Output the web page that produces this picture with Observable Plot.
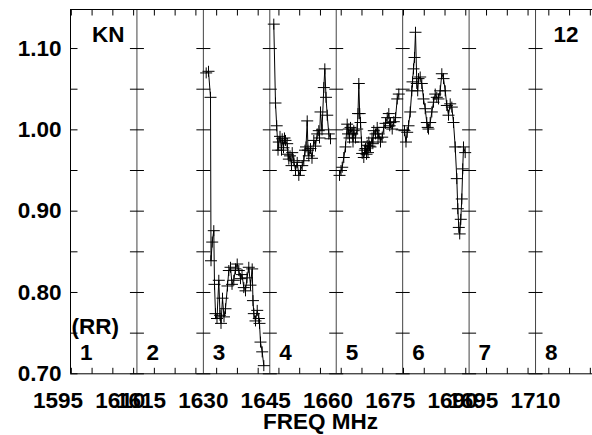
<!DOCTYPE html>
<html><head><meta charset="utf-8">
<script src="https://cdn.jsdelivr.net/npm/d3@7"></script>
<script src="https://cdn.jsdelivr.net/npm/@observablehq/plot@0.6"></script>
<style>html,body{margin:0;padding:0;background:#fff;overflow:hidden}</style>
</head><body><div id="chart"></div>
<script>
// ---- data ----
const panelStarts = [1598, 1614, 1630, 1646, 1662, 1678, 1694, 1710];
const panelNames = ["1", "2", "3", "4", "5", "6", "7", "8"];
const boundaries = [1614, 1630, 1646, 1662, 1678, 1694, 1710];
const xTickLabels = [1595, 1610, 1615, 1630, 1645, 1660, 1675, 1690, 1695, 1710];
const minorTicks = [1598.2,1603.2,1608.2,1613.2,1618.2,1623.2,1628.2,1633.2,1638.2,1643.2,1648.2,1653.2,1658.2,1663.2,1668.2,1673.2,1678.2,1683.2,1688.2,1693.2,1698.2,1703.2,1708.2,1713.2,1718.2,1723.2];
const yTickLabels = [0.70, 0.80, 0.90, 1.00, 1.10];
const yTickAll = [0.70, 0.75, 0.80, 0.85, 0.90, 0.95, 1.00, 1.05, 1.10];
const xDomain = [1598, 1723.72];
const yDomain = [0.70, 1.148];

const panel3Freq = [1630.68,1631.24,1631.72,1631.84,1632.13,1632.51,1632.68,1632.92,1633.28,1633.72,1634.01,1634.25,1634.61,1634.97,1635.33,1635.81,1636.13,1636.54,1636.90,1637.33,1637.74,1638.15,1638.54,1638.94,1639.31,1639.74,1640.15,1640.51,1640.94,1641.35,1641.76,1641.95,1642.15,1642.56,1642.97,1643.35,1643.52,1643.76,1644.17,1644.56];
const panel3Val = [1.070,1.072,1.040,0.839,0.862,0.876,0.810,0.774,0.768,0.815,0.772,0.762,0.793,0.770,0.780,0.808,0.827,0.831,0.810,0.815,0.829,0.835,0.827,0.817,0.822,0.806,0.802,0.818,0.831,0.809,0.829,0.790,0.774,0.765,0.778,0.768,0.762,0.739,0.727,0.710];

const panel4Freq = [1646.96,1647.37,1647.66,1647.98,1648.17,1648.46,1648.82,1648.99,1649.30,1649.54,1649.78,1650.19,1650.38,1650.58,1650.87,1651.23,1651.40,1651.78,1652.19,1652.60,1652.99,1653.39,1653.81,1654.19,1654.48,1654.72,1655.01,1655.20,1655.39,1655.80,1656.16,1656.60,1657.01,1657.42,1657.80,1657.97,1658.21,1658.57,1659.01,1659.25,1659.54,1659.83,1660.21,1660.62];
const panel4Val = [1.130,1.033,1.005,0.975,0.985,0.992,0.975,0.989,0.978,0.990,0.987,0.983,0.970,0.964,0.968,0.956,0.972,0.962,0.950,0.960,0.944,0.950,0.956,0.962,0.975,0.979,1.011,0.975,0.968,0.977,0.965,0.987,0.980,0.995,0.999,0.990,1.022,1.000,1.052,1.075,1.040,1.018,0.995,0.989];

const panel5Freq = [1662.79,1663.15,1663.44,1663.82,1664.23,1664.64,1664.84,1665.03,1665.20,1665.44,1665.85,1666.04,1666.23,1666.64,1667.05,1667.24,1667.44,1667.65,1667.85,1668.09,1668.25,1668.64,1668.86,1669.05,1669.29,1669.46,1669.65,1669.85,1670.01,1670.25,1670.62,1670.81,1671.05,1671.46,1671.87,1672.06,1672.25,1672.66,1673.07,1673.46,1673.87,1674.28,1674.66,1674.88,1675.07,1675.48,1675.87,1676.28,1676.69,1677.07];
const panel5Val = [0.944,0.950,0.954,0.966,0.979,1.007,0.995,1.001,0.990,1.003,0.995,0.985,0.999,0.990,1.001,1.020,1.057,1.020,1.009,0.985,0.971,0.966,0.975,0.977,0.970,0.981,0.972,0.985,0.980,0.979,0.990,0.983,0.999,0.995,1.003,0.990,0.995,0.985,0.991,1.003,1.008,1.015,1.020,1.005,1.009,1.001,1.010,1.015,1.038,1.044];

const panel6Freq = [1678.44,1678.80,1679.09,1679.41,1679.82,1680.20,1680.37,1680.61,1680.85,1681.09,1681.41,1681.62,1681.82,1682.22,1682.61,1683.02,1683.43,1683.81,1684.03,1684.22,1684.63,1685.02,1685.43,1685.84,1686.22,1686.63,1687.04,1687.43,1687.84,1688.25,1688.63,1689.04,1689.45,1689.84,1690.24,1690.65,1691.04,1691.28,1691.52,1691.74,1692.00,1692.24,1692.46,1692.65,1693.06];
const panel6Val = [0.999,0.985,0.997,1.005,1.022,1.048,1.059,1.075,1.089,1.120,1.057,1.048,1.063,1.065,1.057,1.038,1.026,1.009,1.003,1.001,1.009,1.022,1.034,1.044,1.040,1.038,1.048,1.069,1.063,1.048,1.030,1.018,1.032,1.028,1.009,0.979,0.940,0.903,0.880,0.872,0.890,0.915,0.952,0.979,0.972];

// ---- build table ----
const rows = [];
[[panel3Freq, panel3Val, 3], [panel4Freq, panel4Val, 4], [panel5Freq, panel5Val, 5], [panel6Freq, panel6Val, 6]]
  .forEach(([f, v, p]) => f.forEach((x, i) => rows.push({freq: x, value: v[i], panel: p})));

const bTicks = boundaries.flatMap(b => yTickAll.map(y => ({freq: b, value: y})));
const lTicks = yTickAll.map(y => ({freq: xDomain[0], value: y}));
const topTicks = minorTicks.map(f => ({freq: f, value: yDomain[1]}));
const botTicks = minorTicks.map(f => ({freq: f, value: yDomain[0]}));

// ---- marker shapes ----
const plusSym = {draw(c) { c.moveTo(-6, 0); c.lineTo(6, 0); c.moveTo(0, -5.5); c.lineTo(0, 5.5); }};
const hBoth = {draw(c) { c.moveTo(-7, 0); c.lineTo(7, 0); }};
const hRight = {draw(c) { c.moveTo(0, 0); c.lineTo(7, 0); }};
const vDown = {draw(c) { c.moveTo(0, 0); c.lineTo(0, 6); }};
const vUp = {draw(c) { c.moveTo(0, 0); c.lineTo(0, -6); }};

const FS = 22.5;
const chart = Plot.plot({
  width: 592, height: 435,
  marginLeft: 70, marginRight: 0, marginTop: 9, marginBottom: 61.7,
  style: {fontFamily: "'Liberation Sans', Arial, Helvetica, sans-serif", fontWeight: "bold", background: "white", color: "black"},
  x: {domain: xDomain},
  y: {domain: yDomain},
  marks: [
    Plot.ruleX(boundaries, {stroke: "#444", strokeWidth: 1}),
    Plot.ruleX([xDomain[0]], {stroke: "black"}),
    Plot.ruleY([yDomain[0], yDomain[1]], {stroke: "black"}),
    Plot.dot(bTicks, {x: "freq", y: "value", symbol: hBoth, fill: "none", stroke: "black", strokeWidth: 1}),
    Plot.dot(lTicks, {x: "freq", y: "value", symbol: hRight, fill: "none", stroke: "black", strokeWidth: 1}),
    Plot.dot(topTicks, {x: "freq", y: "value", symbol: vDown, fill: "none", stroke: "black", strokeWidth: 1}),
    Plot.dot(botTicks, {x: "freq", y: "value", symbol: vUp, fill: "none", stroke: "black", strokeWidth: 1}),
    Plot.line(rows, {x: "freq", y: "value", z: "panel", stroke: "black", strokeWidth: 1}),
    Plot.dot(rows, {x: "freq", y: "value", symbol: plusSym, fill: "none", stroke: "black", strokeWidth: 1}),
    Plot.axisY({ticks: yTickLabels, tickFormat: d3.format(".2f"), tickSize: 0, tickPadding: 9, fontSize: FS, fontWeight: "bold", label: null}),
    Plot.axisX({ticks: xTickLabels, tickFormat: d => String(d), tickSize: 0, tickPadding: 18.4, fontSize: FS, fontWeight: "bold", label: null}),
    Plot.text(["FREQ MHz"], {frameAnchor: "bottom", dx: -11, dy: 39.7, lineAnchor: "top", fontSize: FS, fontWeight: "bold", fill: "black"}),
    Plot.text(panelNames, {x: panelStarts, text: d => d, frameAnchor: "bottom", dx: 9.5, dy: -30, textAnchor: "start", lineAnchor: "top", fontSize: FS, fontWeight: "bold", fill: "black"}),
    Plot.text(["(RR)"], {x: [panelStarts[0]], frameAnchor: "bottom", dx: 1, dy: -55.5, textAnchor: "start", lineAnchor: "top", fontSize: FS, fontWeight: "bold", fill: "black"}),
    Plot.text(["KN"], {x: [panelStarts[0]], frameAnchor: "top", dx: 21.5, dy: 17, textAnchor: "start", lineAnchor: "top", fontSize: FS, fontWeight: "bold", fill: "black"}),
    Plot.text(["12"], {x: [panelStarts[7]], frameAnchor: "top", dx: 18, dy: 17, textAnchor: "start", lineAnchor: "top", fontSize: FS, fontWeight: "bold", fill: "black"})
  ]
});
document.getElementById("chart").appendChild(chart);
</script>
</body></html>
